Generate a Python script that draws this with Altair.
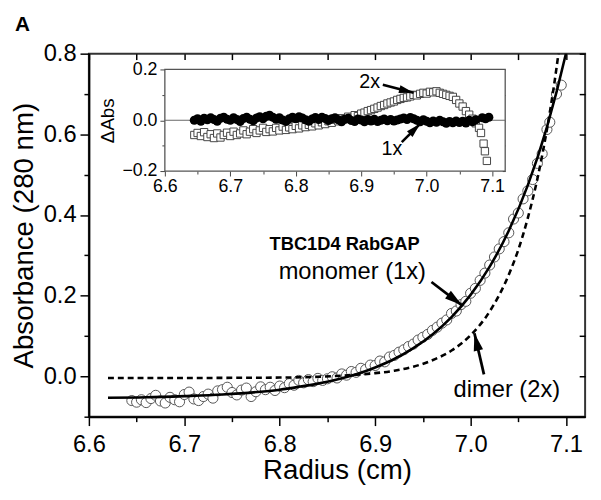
import math
import altair as alt
import pandas as pd

FONT = "Liberation Sans"

# ---------------- main panel data ----------------
mono_r = [6.62, 6.66, 6.70, 6.74, 6.78, 6.80, 6.82, 6.84, 6.86, 6.88, 6.90, 6.92,
          6.94, 6.96, 6.98, 7.00, 7.02, 7.04, 7.06, 7.08, 7.10, 7.11]
mono_v = [-0.053, -0.052, -0.049, -0.045, -0.038, -0.033, -0.026, -0.018, -0.008, 0.005,
          0.022, 0.043, 0.070, 0.104, 0.147, 0.202, 0.272, 0.361, 0.474, 0.618, 0.801, 0.910]

dimer_r = [6.62, 6.70, 6.76, 6.80, 6.84, 6.88, 6.90, 6.92, 6.94, 6.96, 6.98, 7.00,
           7.02, 7.04, 7.05, 7.06, 7.07, 7.08, 7.09, 7.10]
dimer_v = [-0.004, -0.004, -0.0035, -0.003, -0.001, 0.004, 0.008, 0.014, 0.024, 0.040,
           0.064, 0.102, 0.161, 0.252, 0.314, 0.393, 0.490, 0.612, 0.764, 0.953]

obs_r = [6.645, 6.650, 6.655, 6.660, 6.665, 6.670, 6.675, 6.680, 6.685, 6.690,
         6.695, 6.700, 6.705, 6.710, 6.715, 6.720, 6.725, 6.730, 6.735, 6.740,
         6.745, 6.750, 6.755, 6.760, 6.765, 6.770, 6.775, 6.780, 6.785, 6.790,
         6.795, 6.800, 6.805, 6.810, 6.815, 6.820, 6.825, 6.830, 6.835, 6.840,
         6.845, 6.850, 6.855, 6.860, 6.865, 6.870, 6.875, 6.880, 6.885, 6.890,
         6.895, 6.900, 6.905, 6.910, 6.915, 6.920, 6.925, 6.930, 6.935, 6.940,
         6.945, 6.950, 6.955, 6.960, 6.965, 6.970, 6.975, 6.980, 6.985, 6.990,
         6.995, 7.000, 7.005, 7.010, 7.015, 7.020, 7.025, 7.030, 7.035, 7.040,
         7.045, 7.050, 7.055, 7.060, 7.065, 7.070, 7.075, 7.080, 7.083, 7.090,
         7.095]
obs_v = [-0.060, -0.064, -0.058, -0.065, -0.055, -0.047, -0.061, -0.066, -0.052, -0.058,
         -0.063, -0.045, -0.039, -0.056, -0.060, -0.050, -0.044, -0.054, -0.036, -0.033,
         -0.027, -0.040, -0.046, -0.034, -0.029, -0.050, -0.038, -0.026, -0.033, -0.027,
         -0.035, -0.024, -0.028, -0.018, -0.022, -0.010, -0.016, -0.008, -0.013, -0.005,
         -0.010, -0.006, -0.001, -0.004, 0.006, 0.003, 0.012, 0.010, 0.020, 0.017,
         0.028, 0.027, 0.038, 0.036, 0.048, 0.052, 0.060, 0.066, 0.074, 0.080,
         0.090, 0.097, 0.104, 0.114, 0.122, 0.132, 0.140, 0.156, 0.162, 0.178,
         0.186, 0.206, 0.218, 0.238, 0.256, 0.276, 0.296, 0.316, 0.334, 0.356,
         0.390, 0.405, 0.440, 0.460, 0.488, 0.528, 0.552, 0.612, 0.630, 0.700,
         0.722]

# ---------------- inset (residuals) data ----------------
res_r = [6.645, 6.650, 6.655, 6.660, 6.665, 6.670, 6.675, 6.680, 6.685, 6.690,
         6.695, 6.700, 6.705, 6.710, 6.715, 6.720, 6.725, 6.730, 6.735, 6.740,
         6.745, 6.750, 6.755, 6.760, 6.765, 6.770, 6.775, 6.780, 6.785, 6.790,
         6.795, 6.800, 6.805, 6.810, 6.815, 6.820, 6.825, 6.830, 6.835, 6.840,
         6.845, 6.850, 6.855, 6.860, 6.865, 6.870, 6.875, 6.880, 6.885, 6.890,
         6.895, 6.900, 6.905, 6.910, 6.915, 6.920, 6.925, 6.930, 6.935, 6.940,
         6.945, 6.950, 6.955, 6.960, 6.965, 6.970, 6.975, 6.980, 6.985, 6.990,
         6.995, 7.000, 7.005, 7.010, 7.015, 7.020, 7.025, 7.030, 7.035, 7.040,
         7.045, 7.050, 7.055, 7.060, 7.065, 7.070, 7.075]
sq_r = res_r + [7.080, 7.083, 7.087, 7.089, 7.092]
sq_v = [-0.058, -0.050, -0.062, -0.047, -0.066, -0.055, -0.070, -0.052, -0.068, -0.058,
        -0.049, -0.062, -0.045, -0.058, -0.052, -0.040, -0.055, -0.045, -0.035, -0.050,
        -0.040, -0.030, -0.046, -0.035, -0.044, -0.030, -0.040, -0.025, -0.038, -0.028,
        -0.035, -0.022, -0.032, -0.020, -0.027, -0.018, -0.024, -0.012, -0.020, -0.008,
        -0.015, -0.004, -0.010, 0.002, -0.004, 0.008, 0.004, 0.014, 0.010, 0.020,
        0.016, 0.026, 0.030, 0.036, 0.040, 0.045, 0.050, 0.056, 0.060, 0.066,
        0.070, 0.074, 0.080, 0.084, 0.088, 0.090, 0.094, 0.100, 0.098, 0.104,
        0.108, 0.105, 0.112, 0.110, 0.114, 0.108, 0.104, 0.100, 0.096, 0.092,
        0.080, 0.066, 0.054, 0.036, 0.022, 0.006, -0.012,
        -0.030, -0.050, -0.092, -0.122, -0.160]
dot_r = res_r + [7.085, 7.090, 7.095]
dot_v = [0.000, 0.006, -0.004, 0.008, 0.002, 0.010, 0.003, -0.004, 0.008, 0.012,
         0.004, 0.000, 0.010, 0.003, -0.005, 0.007, 0.012, 0.004, -0.002, 0.009,
         0.014, 0.006, 0.016, 0.020, 0.012, 0.004, 0.010, 0.001, -0.005, 0.006,
         0.012, 0.006, 0.014, 0.009, 0.002, -0.004, 0.005, 0.011, 0.003, 0.012,
         0.007, -0.001, 0.006, 0.010, 0.002, -0.006, 0.004, 0.008, -0.001, -0.005,
         0.005, 0.001, -0.006, 0.003, -0.003, 0.004, -0.005, 0.000, 0.005, -0.002,
         0.003, -0.003, 0.001, 0.005, 0.009, 0.003, 0.011, 0.006, 0.000, -0.006,
         0.002, -0.004, -0.010, -0.003, -0.008, 0.000, -0.006, -0.012, -0.005, -0.010,
         -0.003, -0.009, -0.004, -0.011, 0.000, -0.006, 0.002,
         0.010, 0.006, 0.012]

# tick values
X_TICKS = [6.6, 6.65, 6.7, 6.75, 6.8, 6.85, 6.9, 6.95, 7.0, 7.05, 7.1]
Y_TICKS = [-0.1, 0.0, 0.1, 0.2, 0.3, 0.4, 0.5, 0.6, 0.7, 0.8]
IN_Y_TICKS = [-0.2, -0.1, 0.0, 0.1, 0.2]

# annotations
bold_labels = pd.DataFrame({"r": [6.868], "v": [0.327], "t": ["TBC1D4 RabGAP"]})
plain_labels = pd.DataFrame({"r": [6.876, 7.038], "v": [0.259, -0.034],
                             "t": ["monomer (1x)", "dimer (2x)"]})
main_arrows = pd.DataFrame({
    "r0": [6.959, 7.014], "v0": [0.234, 0.005],
    "r1": [6.991, 7.004], "v1": [0.176, 0.107],
})
inset_labels = pd.DataFrame({"r": [6.913, 6.947], "v": [0.150, -0.115], "t": ["2x", "1x"]})
inset_arrows = pd.DataFrame({
    "r0": [6.933, 6.962], "v0": [0.140, -0.086],
    "r1": [6.980, 6.990], "v1": [0.108, -0.014],
})

# ---------------- geometry / styling ----------------
W, H = 503, 368
IN_X0, IN_X1, IN_Y0, IN_Y1 = 77, 422, 16, 119  # inset frame inside plot area (px)


def add_angle(df, kx, ky):
    df = df.copy()
    df["ang"] = [
        math.degrees(math.atan2((a1 - a0) * kx, (b1 - b0) * ky)) % 360
        for a0, b0, a1, b1 in zip(df.r0, df.v0, df.r1, df.v1)
    ]
    return df


main_arrows = add_angle(main_arrows, W / 0.52, H / 0.9)
inset_arrows = add_angle(inset_arrows, (IN_X1 - IN_X0) / 0.52, (IN_Y1 - IN_Y0) / 0.4)

obs = pd.DataFrame({"r": obs_r, "v": obs_v})
mono = pd.DataFrame({"r": mono_r, "v": mono_v})
dimer = pd.DataFrame({"r": dimer_r, "v": dimer_v})
sq = pd.DataFrame({"r": sq_r, "v": sq_v})
dots = pd.DataFrame({"r": dot_r, "v": dot_v})
frame = pd.DataFrame({"r0": [6.6], "r1": [7.12], "v0": [-0.2], "v1": [0.2]})
zero = pd.DataFrame({"r0": [6.6], "r1": [7.12], "v": [0.0]})

MX = "abs(datum.value*10 - round(datum.value*10)) < 0.001"
MY = "abs(datum.value*5 - round(datum.value*5)) < 0.001"

xs = alt.Scale(domain=[6.6, 7.12], nice=False, zero=False)
ys = alt.Scale(domain=[-0.1, 0.8], nice=False, zero=False)
xs_in = alt.Scale(domain=[6.6, 7.12], range=[IN_X0, IN_X1], nice=False, zero=False)
ys_in = alt.Scale(domain=[-0.2, 0.2], range=[IN_Y1, IN_Y0], nice=False, zero=False)

x_bottom = alt.Axis(
    orient="bottom", values=X_TICKS, labelExpr=f"{MX} ? format(datum.value, '.1f') : ''",
    tickSize={"condition": {"test": MX, "value": 9}, "value": 5},
    tickWidth=1.5, domainWidth=2, labelFontSize=24, labelPadding=7, labelFlush=False,
    labelOverlap=False, title="Radius (cm)", titleFontSize=28, titlePadding=1,
)
y_left = alt.Axis(
    orient="left", values=Y_TICKS, labelExpr=f"{MY} ? format(datum.value, '.1f') : ''",
    tickSize={"condition": {"test": MY, "value": 9}, "value": 5},
    tickWidth=1.5, domainWidth=2, labelFontSize=24, labelPadding=4, labelFlush=False,
    labelOverlap=False, title="Absorbance (280 nm)", titleFontSize=28, titlePadding=5,
)
x_top = alt.Axis(orient="top", values=X_TICKS, offset=-6, tickSize=6, tickWidth=1.5,
                 domain=False, labels=False, title=None)
y_right = alt.Axis(orient="right", values=Y_TICKS, offset=-6, tickSize=6, tickWidth=1.5,
                   domain=False, labels=False, title=None)

head_shape = "M0,0L-0.7,2.6L0.7,2.6Z"

circ = alt.Chart(obs).mark_point(
    shape="circle", filled=True, color="white", stroke="#555", strokeWidth=1,
    size=105, opacity=1
).encode(x=alt.X("r:Q", scale=xs, axis=x_bottom), y=alt.Y("v:Q", scale=ys, axis=y_left))

mono_line = alt.Chart(mono).mark_line(
    color="black", strokeWidth=2.6, clip=True, interpolate="monotone"
).encode(x=alt.X("r:Q", scale=xs, axis=None), y=alt.Y("v:Q", scale=ys, axis=None))

dimer_line = alt.Chart(dimer).mark_line(
    color="black", strokeWidth=2.6, strokeDash=[6, 4], clip=True, interpolate="monotone"
).encode(x=alt.X("r:Q", scale=xs, axis=None), y=alt.Y("v:Q", scale=ys, axis=None))

mirror = alt.Chart(obs).mark_point(opacity=0).encode(
    x=alt.X("r:Q", scale=xs, axis=x_top), y=alt.Y("v:Q", scale=ys, axis=y_right))

txt_bold = alt.Chart(bold_labels).mark_text(
    font=FONT, fontSize=18.5, fontWeight="bold", color="black", align="center", baseline="middle"
).encode(x=alt.X("r:Q", scale=xs, axis=None), y=alt.Y("v:Q", scale=ys, axis=None), text="t:N")

txt_plain = alt.Chart(plain_labels).mark_text(
    font=FONT, fontSize=24, color="black", align="center", baseline="middle"
).encode(x=alt.X("r:Q", scale=xs, axis=None), y=alt.Y("v:Q", scale=ys, axis=None), text="t:N")

shaft_main = alt.Chart(main_arrows).mark_rule(color="black", strokeWidth=2.8).encode(
    x=alt.X("r0:Q", scale=xs, axis=None), y=alt.Y("v0:Q", scale=ys, axis=None),
    x2="r1:Q", y2="v1:Q")
head_main = alt.Chart(main_arrows).mark_point(
    shape=head_shape, filled=True, color="black", size=190, opacity=1
).encode(x=alt.X("r1:Q", scale=xs, axis=None), y=alt.Y("v1:Q", scale=ys, axis=None),
         angle=alt.Angle("ang:Q", scale=None))

main = alt.layer(circ, mono_line, dimer_line, mirror, txt_bold, txt_plain, shaft_main,
                 head_main).resolve_axis(x="independent", y="independent")

# ---------------- inset ----------------
xin_bottom = alt.Axis(
    orient="bottom", values=X_TICKS, offset=-(H - IN_Y1),
    labelExpr=f"{MX} ? format(datum.value, '.1f') : ''",
    tickSize={"condition": {"test": MX, "value": 5}, "value": 3},
    tickWidth=1, domain=False, labelFontSize=18, labelPadding=2, labelFlush=False,
    labelOverlap=False, title=None, tickColor="#444",
)
yin_left = alt.Axis(
    orient="left", values=IN_Y_TICKS, offset=-IN_X0,
    labelExpr=f"{MY} ? format(datum.value, '.1f') : ''",
    tickSize={"condition": {"test": MY, "value": 5}, "value": 3},
    tickWidth=1, domain=False, labelFontSize=18, labelPadding=3, labelFlush=False,
    labelOverlap=False, title="\u0394Abs", titleFontSize=19, titlePadding=5, tickColor="#444",
)
xin_top = alt.Axis(orient="top", values=X_TICKS, offset=-(IN_Y0 + 3), tickSize=3,
                   tickWidth=1, domain=False, labels=False, title=None, tickColor="#444")
yin_right = alt.Axis(orient="right", values=IN_Y_TICKS, offset=-(W - IN_X1 + 3), tickSize=3,
                     tickWidth=1, domain=False, labels=False, title=None, tickColor="#444")

frame_rect = alt.Chart(frame).mark_rect(fill="white", stroke="#555", strokeWidth=1.3).encode(
    x=alt.X("r0:Q", scale=xs_in, axis=xin_bottom), x2="r1:Q",
    y=alt.Y("v0:Q", scale=ys_in, axis=yin_left), y2="v1:Q")

zero_rule = alt.Chart(zero).mark_rule(color="#666", strokeWidth=1).encode(
    x=alt.X("r0:Q", scale=xs_in, axis=None), x2="r1:Q",
    y=alt.Y("v:Q", scale=ys_in, axis=None))

dot_layer = alt.Chart(dots).mark_circle(color="black", size=85, opacity=1).encode(
    x=alt.X("r:Q", scale=xs_in, axis=None), y=alt.Y("v:Q", scale=ys_in, axis=None))

sq_layer = alt.Chart(sq).mark_point(
    shape="square", filled=True, color="white", stroke="#444", strokeWidth=1,
    size=55, opacity=1
).encode(x=alt.X("r:Q", scale=xs_in, axis=None), y=alt.Y("v:Q", scale=ys_in, axis=None))

mirror_in = alt.Chart(frame).mark_point(opacity=0).encode(
    x=alt.X("r0:Q", scale=xs_in, axis=xin_top), y=alt.Y("v0:Q", scale=ys_in, axis=yin_right))

txt_in = alt.Chart(inset_labels).mark_text(
    font=FONT, fontSize=20, color="black", align="center", baseline="middle"
).encode(x=alt.X("r:Q", scale=xs_in, axis=None), y=alt.Y("v:Q", scale=ys_in, axis=None),
         text="t:N")

shaft_in = alt.Chart(inset_arrows).mark_rule(color="black", strokeWidth=2.6).encode(
    x=alt.X("r0:Q", scale=xs_in, axis=None), y=alt.Y("v0:Q", scale=ys_in, axis=None),
    x2="r1:Q", y2="v1:Q")
head_in = alt.Chart(inset_arrows).mark_point(
    shape=head_shape, filled=True, color="black", size=130, opacity=1
).encode(x=alt.X("r1:Q", scale=xs_in, axis=None), y=alt.Y("v1:Q", scale=ys_in, axis=None),
         angle=alt.Angle("ang:Q", scale=None))

inset = alt.layer(frame_rect, zero_rule, sq_layer, dot_layer, mirror_in, txt_in,
                  shaft_in, head_in).resolve_axis(x="independent", y="independent")

chart = alt.layer(main, inset).resolve_scale(
    x="independent", y="independent"
).properties(
    width=W, height=H,
    autosize=alt.AutoSizeParams(type="none"),
    padding={"left": 82, "top": 43, "right": 8, "bottom": 70},
    title=alt.TitleParams("A", anchor="start", frame="group", dx=-75, offset=7,
                          fontSize=21, fontWeight="bold", font=FONT, color="black"),
).configure_view(
    stroke="#333", strokeWidth=2
).configure_axis(
    grid=False, domainColor="black", tickColor="black", labelColor="black",
    titleColor="black", labelFont=FONT, titleFont=FONT, titleFontWeight="normal",
)

chart.save("out.html", embed_options={"renderer": "svg", "actions": False})
